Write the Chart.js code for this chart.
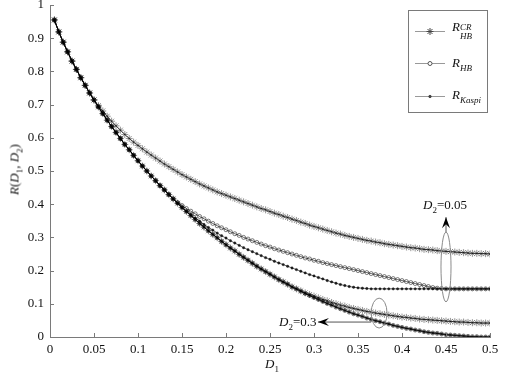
<!DOCTYPE html>
<html>
<head>
<meta charset="utf-8">
<script src="https://cdn.jsdelivr.net/npm/chart.js@4.4.0/dist/chart.umd.min.js"></script>
<style>
  html, body { margin: 0; padding: 0; background: #fff; }
  #wrap { position: relative; width: 508px; height: 379px; font-family: "Liberation Serif", "Times New Roman", serif; color: #111; }
  #wrap canvas { position: absolute; left: 0; top: 0; }
  .lbl { position: absolute; font-size: 13px; line-height: 13px; white-space: nowrap; }
  .lbl i { font-style: italic; }
  .lbl sub { font-size: 9px; line-height: 0; vertical-align: -4px; }
  .stack { display: inline-block; vertical-align: -8px; font-size: 9px; line-height: 9px; font-style: italic; }
  .stack span { display: block; }
</style>
</head>
<body>
<div id="wrap">
  <canvas id="chart" width="508" height="379"></canvas>
  <!-- legend labels -->
  <div class="lbl" style="left:452px;top:20px;"><i>R</i><span class="stack"><span>CR</span><span>HB</span></span></div>
  <div class="lbl" style="left:452px;top:56px;"><i>R</i><sub><i>HB</i></sub></div>
  <div class="lbl" style="left:452px;top:88px;"><i>R</i><sub><i>Kaspi</i></sub></div>
  <!-- annotations -->
  <div class="lbl" style="left:423px;top:198px;"><i>D</i><sub>2</sub>=0.05</div>
  <div class="lbl" style="left:279px;top:315px;"><i>D</i><sub>2</sub>=0.3</div>
  <!-- axis titles -->
  <div class="lbl" style="left:265px;top:357px;"><i>D</i><sub>1</sub></div>
  <div class="lbl" style="left:-22px;top:163px;width:72px;text-align:center;transform:rotate(-90deg);"><i>R</i>(<i>D</i><sub>1</sub>, <i>D</i><sub>2</sub>)</div>
</div>
<script>
// D1 grid (x values)
const d1 = [0.005,0.01,0.015,0.02,0.025,0.03,0.035,0.04,0.045,0.05,
  0.055,0.06,0.065,0.07,0.075,0.08,0.085,0.09,0.095,0.1,
  0.105,0.11,0.115,0.12,0.125,0.13,0.135,0.14,0.145,0.15,
  0.155,0.16,0.165,0.17,0.175,0.18,0.185,0.19,0.195,0.2,
  0.205,0.21,0.215,0.22,0.225,0.23,0.235,0.24,0.245,0.25,
  0.255,0.26,0.265,0.27,0.275,0.28,0.285,0.29,0.295,0.3,
  0.305,0.31,0.315,0.32,0.325,0.33,0.335,0.34,0.345,0.35,
  0.355,0.36,0.365,0.37,0.375,0.38,0.385,0.39,0.395,0.4,
  0.405,0.41,0.415,0.42,0.425,0.43,0.435,0.44,0.445,0.45,
  0.455,0.46,0.465,0.47,0.475,0.48,0.485,0.49,0.495,0.5];

// D2 = 0.05
const hbCR05 = [0.955,0.919,0.888,0.859,0.831,0.806,0.781,0.758,0.735,0.714,
  0.697,0.681,0.665,0.650,0.636,0.623,0.610,0.598,0.587,0.577,
  0.567,0.557,0.548,0.539,0.530,0.521,0.513,0.505,0.497,0.489,
  0.482,0.475,0.468,0.461,0.455,0.449,0.443,0.437,0.432,0.427,
  0.422,0.417,0.412,0.407,0.402,0.397,0.392,0.387,0.383,0.378,
  0.373,0.369,0.364,0.360,0.355,0.351,0.346,0.342,0.337,0.333,
  0.329,0.325,0.321,0.317,0.313,0.310,0.306,0.303,0.300,0.297,
  0.294,0.291,0.289,0.286,0.284,0.281,0.279,0.277,0.275,0.273,
  0.271,0.269,0.268,0.266,0.264,0.263,0.262,0.260,0.259,0.258,
  0.257,0.256,0.255,0.254,0.253,0.252,0.252,0.251,0.251,0.250];
const hb05 = [0.955,0.919,0.888,0.859,0.831,0.806,0.781,0.758,0.735,0.714,
  0.693,0.673,0.653,0.634,0.616,0.598,0.580,0.564,0.547,0.531,
  0.515,0.500,0.485,0.471,0.456,0.443,0.429,0.416,0.405,0.396,
  0.387,0.379,0.371,0.363,0.356,0.349,0.342,0.335,0.329,0.323,
  0.317,0.311,0.306,0.300,0.295,0.290,0.285,0.280,0.275,0.271,
  0.266,0.262,0.258,0.254,0.250,0.246,0.242,0.238,0.235,0.231,
  0.228,0.224,0.221,0.218,0.215,0.212,0.209,0.206,0.203,0.200,
  0.197,0.194,0.191,0.188,0.185,0.182,0.179,0.176,0.173,0.170,
  0.167,0.164,0.161,0.158,0.155,0.152,0.149,0.147,0.146,0.145,
  0.145,0.145,0.145,0.145,0.145,0.145,0.145,0.145,0.145,0.145];
const kaspi05 = [0.955,0.919,0.888,0.859,0.831,0.806,0.781,0.758,0.735,0.714,
  0.693,0.673,0.653,0.634,0.616,0.598,0.580,0.564,0.547,0.531,
  0.515,0.500,0.485,0.471,0.456,0.443,0.429,0.416,0.403,0.390,
  0.379,0.368,0.358,0.349,0.339,0.330,0.322,0.313,0.305,0.298,
  0.290,0.283,0.276,0.269,0.263,0.257,0.251,0.245,0.239,0.234,
  0.228,0.223,0.218,0.213,0.208,0.203,0.198,0.193,0.188,0.184,
  0.179,0.175,0.170,0.166,0.162,0.158,0.155,0.152,0.150,0.148,
  0.147,0.146,0.145,0.145,0.145,0.145,0.145,0.145,0.145,0.145,
  0.145,0.145,0.145,0.145,0.145,0.145,0.145,0.145,0.145,0.145,
  0.145,0.145,0.145,0.145,0.145,0.145,0.145,0.145,0.145,0.145];

// D2 = 0.3
const hbCR3 = [0.955,0.919,0.888,0.859,0.831,0.806,0.781,0.758,0.735,0.714,
  0.693,0.673,0.653,0.634,0.616,0.598,0.580,0.564,0.547,0.531,
  0.515,0.500,0.485,0.471,0.456,0.443,0.429,0.416,0.403,0.390,
  0.378,0.366,0.354,0.342,0.331,0.320,0.309,0.299,0.288,0.278,
  0.268,0.259,0.249,0.240,0.231,0.222,0.213,0.205,0.197,0.189,
  0.181,0.173,0.166,0.159,0.151,0.145,0.139,0.133,0.128,0.123,
  0.118,0.113,0.109,0.104,0.100,0.096,0.093,0.089,0.086,0.083,
  0.080,0.077,0.075,0.072,0.070,0.068,0.066,0.064,0.062,0.060,
  0.059,0.057,0.056,0.054,0.053,0.052,0.051,0.050,0.049,0.048,
  0.047,0.046,0.045,0.045,0.044,0.043,0.043,0.042,0.042,0.042];
const hb3 = [0.955,0.919,0.888,0.859,0.831,0.806,0.781,0.758,0.735,0.714,
  0.693,0.673,0.653,0.634,0.616,0.598,0.580,0.564,0.547,0.531,
  0.515,0.500,0.485,0.471,0.456,0.443,0.429,0.416,0.403,0.390,
  0.378,0.366,0.354,0.342,0.331,0.320,0.309,0.299,0.288,0.278,
  0.268,0.259,0.249,0.240,0.231,0.222,0.213,0.205,0.197,0.189,
  0.181,0.173,0.166,0.159,0.151,0.145,0.138,0.131,0.125,0.119,
  0.113,0.107,0.101,0.096,0.090,0.085,0.080,0.075,0.070,0.066,
  0.062,0.057,0.053,0.049,0.046,0.042,0.039,0.035,0.032,0.029,
  0.026,0.024,0.021,0.019,0.016,0.014,0.012,0.011,0.009,0.007,
  0.006,0.005,0.004,0.003,0.002,0.001,0.001,0.000,0.000,0.000];
const kaspi3 = [0.955,0.919,0.888,0.859,0.831,0.806,0.781,0.758,0.735,0.714,
  0.693,0.673,0.653,0.634,0.616,0.598,0.580,0.564,0.547,0.531,
  0.515,0.500,0.485,0.471,0.456,0.443,0.429,0.416,0.403,0.390,
  0.378,0.366,0.354,0.342,0.331,0.320,0.309,0.299,0.288,0.278,
  0.268,0.259,0.249,0.240,0.231,0.222,0.213,0.205,0.197,0.189,
  0.181,0.173,0.166,0.159,0.151,0.145,0.138,0.131,0.125,0.119,
  0.113,0.107,0.101,0.096,0.090,0.085,0.080,0.075,0.070,0.066,
  0.062,0.057,0.053,0.049,0.046,0.042,0.039,0.035,0.032,0.029,
  0.026,0.024,0.021,0.019,0.016,0.014,0.012,0.011,0.009,0.007,
  0.006,0.005,0.004,0.003,0.002,0.001,0.001,0.000,0.000,0.000];

const xTicks = [0,0.05,0.1,0.15,0.2,0.25,0.3,0.35,0.4,0.45,0.5];
const yTicks = [0,0.1,0.2,0.3,0.4,0.5,0.6,0.7,0.8,0.9,1];

const AXIS = '#7a7a7a';
const LINE = 'rgba(0,0,0,0.6)';

// translucent marks so that overlapping curves build up to black, as in the figure
const styles = {
  cr:    { pointStyle: 'star',   pointRadius: 3.5, pointBorderColor: 'rgba(0,0,0,0.42)', pointBackgroundColor: 'rgba(0,0,0,0.42)', pointBorderWidth: 1 },
  hb:    { pointStyle: 'circle', pointRadius: 2,   pointBorderColor: 'rgba(0,0,0,0.5)', pointBackgroundColor: 'rgba(255,255,255,0)', pointBorderWidth: 1 },
  kaspi: { pointStyle: 'circle', pointRadius: 1.2, pointBorderColor: 'rgba(0,0,0,0.8)', pointBackgroundColor: 'rgba(0,0,0,0.8)', pointBorderWidth: 0.5 }
};

function series(label, values, kind) {
  return Object.assign({
    label: label,
    data: values.map((v, i) => ({ x: d1[i], y: v })),
    borderColor: LINE,
    borderWidth: 1,
    fill: false,
    tension: 0
  }, styles[kind]);
}

// inward tick marks, legend box, ellipses and arrows
const decor = {
  id: 'decor',
  afterDatasetsDraw(chart) {
    const { ctx, chartArea: a, scales: { x, y } } = chart;
    ctx.save();
    ctx.strokeStyle = AXIS;
    ctx.lineWidth = 1;
    ctx.beginPath();
    xTicks.forEach(t => { const px = Math.round(x.getPixelForValue(t)) + 0.5; ctx.moveTo(px, a.bottom); ctx.lineTo(px, a.bottom - 4); });
    yTicks.forEach(t => { const py = Math.round(y.getPixelForValue(t)) + 0.5; ctx.moveTo(a.left, py); ctx.lineTo(a.left + 4, py); });
    ctx.stroke();

    // legend box
    ctx.fillStyle = '#fff';
    ctx.fillRect(408.5, 10.5, 79, 102);
    ctx.strokeStyle = '#7a7a7a';
    ctx.strokeRect(408.5, 10.5, 79, 102);
    const rows = [['cr', 31], ['hb', 63], ['kaspi', 96]];
    rows.forEach(([k, ly]) => {
      ctx.strokeStyle = '#999';
      ctx.beginPath(); ctx.moveTo(415, ly + 0.5); ctx.lineTo(445, ly + 0.5); ctx.stroke();
      const s = styles[k];
      ctx.strokeStyle = k === 'hb' ? '#555' : '#444';
      ctx.fillStyle = k === 'hb' ? '#fff' : '#444';
      ctx.lineWidth = 1;
      Chart.helpers.drawPoint(ctx, { pointStyle: s.pointStyle, radius: s.pointRadius, rotation: 0, borderWidth: 1 }, 430, ly + 0.5);
    });

    // ellipses
    const ell = (cx, cy, rx, ry) => {
      ctx.strokeStyle = '#8a8a8a';
      ctx.lineWidth = 1;
      ctx.beginPath();
      ctx.ellipse(x.getPixelForValue(cx), y.getPixelForValue(cy),
        Math.abs(x.getPixelForValue(cx + rx) - x.getPixelForValue(cx)),
        Math.abs(y.getPixelForValue(cy + ry) - y.getPixelForValue(cy)), 0, 0, Math.PI * 2);
      ctx.stroke();
    };
    ell(0.45, 0.211, 0.0057, 0.105);
    ell(0.374, 0.072, 0.009, 0.045);

    // arrows
    const arrow = (x0, y0, x1, y1) => {
      const p0 = [x.getPixelForValue(x0), y.getPixelForValue(y0)];
      const p1 = [x.getPixelForValue(x1), y.getPixelForValue(y1)];
      const ang = Math.atan2(p1[1] - p0[1], p1[0] - p0[0]);
      ctx.strokeStyle = '#555';
      ctx.lineWidth = 1;
      ctx.beginPath(); ctx.moveTo(p0[0], p0[1]); ctx.lineTo(p1[0], p1[1]); ctx.stroke();
      ctx.fillStyle = '#000';
      ctx.beginPath();
      ctx.moveTo(p1[0], p1[1]);
      ctx.lineTo(p1[0] - 11 * Math.cos(ang) + 4 * Math.sin(ang), p1[1] - 11 * Math.sin(ang) - 4 * Math.cos(ang));
      ctx.lineTo(p1[0] - 7 * Math.cos(ang), p1[1] - 7 * Math.sin(ang));
      ctx.lineTo(p1[0] - 11 * Math.cos(ang) - 4 * Math.sin(ang), p1[1] - 11 * Math.sin(ang) + 4 * Math.cos(ang));
      ctx.closePath();
      ctx.fill();
    };
    arrow(0.45, 0.316, 0.45, 0.361);
    arrow(0.365, 0.045, 0.3045, 0.045);
    ctx.restore();
  }
};

new Chart(document.getElementById('chart'), {
  type: 'line',
  data: {
    datasets: [
      series('R_HB^CR D2=0.05', hbCR05, 'cr'),
      series('R_HB D2=0.05', hb05, 'hb'),
      series('R_Kaspi D2=0.05', kaspi05, 'kaspi'),
      series('R_HB^CR D2=0.3', hbCR3, 'cr'),
      series('R_HB D2=0.3', hb3, 'hb'),
      series('R_Kaspi D2=0.3', kaspi3, 'kaspi')
    ]
  },
  options: {
    responsive: false,
    animation: false,
    events: [],
    layout: { padding: { left: 0, right: 18, top: 5, bottom: 0 } },
    plugins: { legend: { display: false }, tooltip: { enabled: false } },
    scales: {
      x: {
        type: 'linear', min: 0, max: 0.5,
        grid: { display: false, drawTicks: false },
        border: { display: true, color: AXIS, width: 1 },
        afterBuildTicks: s => { s.ticks = xTicks.map(v => ({ value: v })); },
        afterFit: s => { s.height = 42; s.paddingLeft = 0; s.paddingRight = 0; },
        ticks: {
          color: '#111', padding: 5, maxRotation: 0, autoSkip: false,
          font: { family: '"Liberation Serif", serif', size: 13 },
          callback: v => String(+v.toFixed(2))
        }
      },
      y: {
        min: 0, max: 1,
        grid: { display: false, drawTicks: false },
        border: { display: true, color: AXIS, width: 1 },
        afterBuildTicks: s => { s.ticks = yTicks.map(v => ({ value: v })); },
        afterFit: s => { s.width = 50; s.paddingTop = 0; s.paddingBottom = 0; },
        ticks: {
          color: '#111', padding: 6, autoSkip: false,
          font: { family: '"Liberation Serif", serif', size: 13 },
          callback: v => String(+v.toFixed(1))
        }
      }
    }
  },
  plugins: [decor]
});
</script>
</body>
</html>
